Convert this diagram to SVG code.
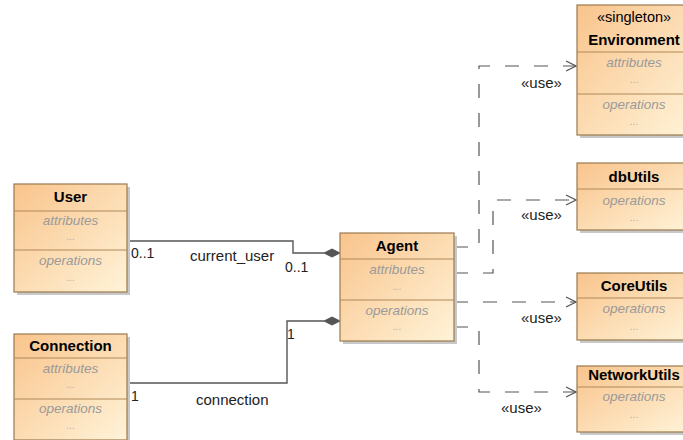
<svg xmlns="http://www.w3.org/2000/svg" width="683" height="440" viewBox="0 0 683 440">
<defs>
<linearGradient id="fill" x1="0" y1="0" x2="1" y2="1">
<stop offset="0" stop-color="#f9c48c"/>
<stop offset="1" stop-color="#fff3d8"/>
</linearGradient>
<marker id="open" markerWidth="12" markerHeight="12" refX="11" refY="6" orient="auto" markerUnits="userSpaceOnUse">
<path d="M1,1 L11,6 L1,11" fill="none" stroke="#555" stroke-width="1.2"/>
</marker>
</defs>
<style>
.box{fill:url(#fill);stroke:#9a7a4e;stroke-width:1.2}
.sh{fill:#c8c8c8}
.div{stroke:#b08858;stroke-width:1}
.name{font-family:"Liberation Sans",Arial,sans-serif;font-size:15px;font-weight:bold;fill:#000;text-anchor:middle}
.stereo{font-family:"Liberation Sans",Arial,sans-serif;font-size:14.5px;fill:#000;text-anchor:middle}
.comp{font-family:"Liberation Sans",Arial,sans-serif;font-size:13.5px;font-style:italic;fill:#9a9a9a;text-anchor:middle}
.dots{font-family:"Liberation Sans",Arial,sans-serif;font-size:10px;fill:#b0b0b0;text-anchor:middle}
.lbl{font-family:"Liberation Sans",Arial,sans-serif;font-size:15px;fill:#222}
.mult{font-family:"Liberation Sans",Arial,sans-serif;font-size:14px;fill:#222}
.assoc{fill:none;stroke:#555;stroke-width:1.4}
.dep{fill:none;stroke:#555;stroke-width:1.2;stroke-dasharray:14,15}
.dia{fill:#555;stroke:#555;stroke-width:1}
</style>

<g id="connectors">
<path class="assoc" d="M127,241 H293 V253 H324"/>
<path class="dia" d="M324,253 L332,249 L340,253 L332,257 Z"/>
<path class="assoc" d="M127,383 H287 V321 H324"/>
<path class="dia" d="M324,321 L332,317 L340,321 L332,325 Z"/>
<path class="dep" d="M454,247 H479 V66 H576" marker-end="url(#open)"/>
<path class="dep" d="M454,273 H493 V200 H576" marker-end="url(#open)"/>
<path class="dep" d="M454,302 H576" marker-end="url(#open)"/>
<path class="dep" d="M454,327 H479 V392 H576" marker-end="url(#open)"/>
<text class="mult" x="131" y="258">0..1</text>
<text class="lbl" x="190" y="261">current_user</text>
<text class="mult" x="285" y="272">0..1</text>
<text class="mult" x="287" y="339">1</text>
<text class="mult" x="131" y="401">1</text>
<text class="lbl" x="196" y="405">connection</text>
<text class="lbl" x="521" y="88">«use»</text>
<text class="lbl" x="521" y="220">«use»</text>
<text class="lbl" x="521" y="323">«use»</text>
<text class="lbl" x="501" y="413">«use»</text>
</g>

<g id="User">
<rect class="sh" x="17" y="187" width="113" height="108"/>
<rect class="box" x="14" y="184" width="113" height="108"/>
<line class="div" x1="14" y1="211" x2="127" y2="211"/>
<line class="div" x1="14" y1="250" x2="127" y2="250"/>
<text class="name" x="70.5" y="202">User</text>
<text class="comp" x="70.5" y="225">attributes</text>
<text class="dots" x="70.5" y="240">...</text>
<text class="comp" x="70.5" y="265">operations</text>
<text class="dots" x="70.5" y="281">...</text>
</g>

<g id="Connection">
<rect class="sh" x="17" y="337" width="113" height="106"/>
<rect class="box" x="14" y="334" width="113" height="106"/>
<line class="div" x1="14" y1="358" x2="127" y2="358"/>
<line class="div" x1="14" y1="399" x2="127" y2="399"/>
<text class="name" x="70.5" y="351">Connection</text>
<text class="comp" x="70.5" y="373">attributes</text>
<text class="dots" x="70.5" y="388">...</text>
<text class="comp" x="70.5" y="413">operations</text>
<text class="dots" x="70.5" y="429">...</text>
</g>

<g id="Agent">
<rect class="sh" x="343" y="236" width="114" height="108"/>
<rect class="box" x="340" y="233" width="114" height="108"/>
<line class="div" x1="340" y1="259" x2="454" y2="259"/>
<line class="div" x1="340" y1="300" x2="454" y2="300"/>
<text class="name" x="397" y="251">Agent</text>
<text class="comp" x="397" y="274">attributes</text>
<text class="dots" x="397" y="290">...</text>
<text class="comp" x="397" y="315">operations</text>
<text class="dots" x="397" y="330">...</text>
</g>

<g id="Environment">
<rect class="sh" x="580" y="8" width="114" height="130"/>
<rect class="box" x="577" y="5" width="114" height="130"/>
<line class="div" x1="577" y1="52" x2="691" y2="52"/>
<line class="div" x1="577" y1="94" x2="691" y2="94"/>
<text class="stereo" x="634" y="22">«singleton»</text>
<text class="name" x="634" y="45">Environment</text>
<text class="comp" x="634" y="67">attributes</text>
<text class="dots" x="634" y="83">...</text>
<text class="comp" x="634" y="109">operations</text>
<text class="dots" x="634" y="125">...</text>
</g>

<g id="dbUtils">
<rect class="sh" x="580" y="166" width="114" height="67"/>
<rect class="box" x="577" y="163" width="114" height="67"/>
<line class="div" x1="577" y1="189" x2="691" y2="189"/>
<text class="name" x="634" y="182">dbUtils</text>
<text class="comp" x="634" y="205">operations</text>
<text class="dots" x="634" y="221">...</text>
</g>

<g id="CoreUtils">
<rect class="sh" x="580" y="276" width="114" height="67"/>
<rect class="box" x="577" y="273" width="114" height="67"/>
<line class="div" x1="577" y1="298" x2="691" y2="298"/>
<text class="name" x="634" y="291">CoreUtils</text>
<text class="comp" x="634" y="313">operations</text>
<text class="dots" x="634" y="330">...</text>
</g>

<g id="NetworkUtils">
<rect class="sh" x="580" y="369" width="114" height="66"/>
<rect class="box" x="577" y="366" width="114" height="66"/>
<line class="div" x1="577" y1="387" x2="691" y2="387"/>
<text class="name" x="634" y="380">NetworkUtils</text>
<text class="comp" x="634" y="401">operations</text>
<text class="dots" x="634" y="418">...</text>
</g>
</svg>
